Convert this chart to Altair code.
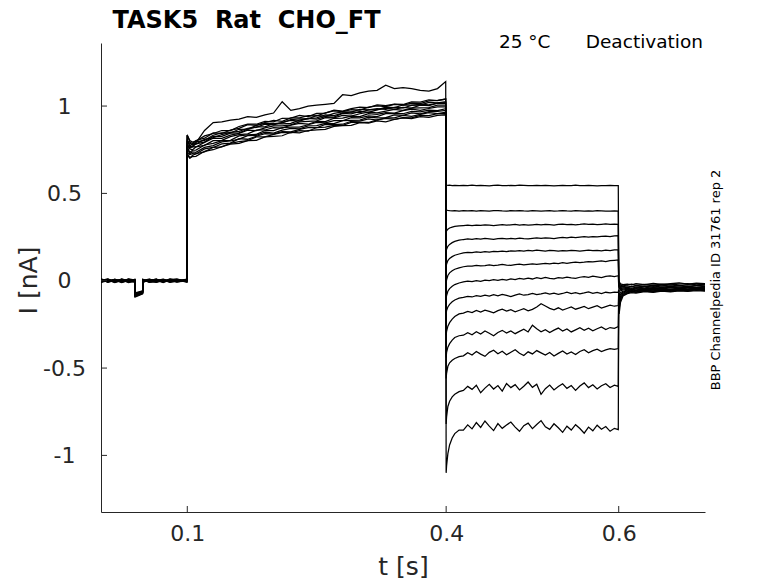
import altair as alt
import pandas as pd

SWEEP_NAMES = ["sweep %02d" % (i + 1) for i in range(13)]

# ---- time grids of the four protocol segments (s) ----
PRE_T = [0.0, 0.008, 0.016, 0.024, 0.032, 0.0392, 0.0395, 0.044, 0.0482, 0.0485,
         0.056, 0.064, 0.072, 0.08, 0.088, 0.0995]
ACT_T = [0.1, 0.1003, 0.103, 0.106, 0.11, 0.12, 0.13, 0.14, 0.15, 0.16, 0.17, 0.18,
         0.19, 0.20, 0.21, 0.22, 0.23, 0.24, 0.25, 0.26, 0.27, 0.28, 0.29, 0.30, 0.31,
         0.32, 0.33, 0.34, 0.35, 0.36, 0.37, 0.38, 0.39, 0.3995]
DEA_T = [0.4, 0.4005, 0.402, 0.404, 0.407, 0.41, 0.415,
         0.42, 0.425, 0.43, 0.435, 0.44, 0.445, 0.45, 0.455, 0.46, 0.465,
         0.47, 0.475, 0.48, 0.485, 0.49, 0.495, 0.50, 0.505, 0.51, 0.515,
         0.52, 0.525, 0.53, 0.535, 0.54, 0.545, 0.55, 0.555, 0.56, 0.565,
         0.57, 0.575, 0.58, 0.585, 0.59, 0.595, 0.5995]
POST_T = [0.6, 0.6005, 0.602, 0.605, 0.61, 0.615, 0.62, 0.63, 0.64, 0.65, 0.66,
          0.67, 0.68, 0.69, 0.7]

# ---- current (nA) per sweep, per segment ----
PRE_I = [
    [0.005, -0.004, 0.008, -0.002, 0.006, 0.0, -0.075, -0.068, -0.062, 0.004, -0.003, 0.007, -0.001, 0.005, -0.004, 0.003],
    [-0.006, 0.004, -0.003, 0.009, -0.005, 0.002, -0.082, -0.072, -0.066, -0.002, 0.006, -0.004, 0.008, -0.003, 0.005, -0.002],
    [0.002, 0.010, -0.006, 0.003, -0.008, 0.005, -0.088, -0.079, -0.071, 0.007, -0.005, 0.003, -0.007, 0.009, -0.001, 0.006],
    [-0.010, 0.001, 0.006, -0.007, 0.004, -0.006, -0.070, -0.064, -0.058, -0.006, 0.002, -0.009, 0.004, -0.005, 0.008, -0.006],
    [0.008, -0.009, 0.002, 0.006, -0.003, 0.008, -0.093, -0.084, -0.075, 0.002, 0.009, -0.002, -0.006, 0.003, -0.008, 0.004],
    [-0.003, 0.007, -0.010, 0.000, 0.009, -0.004, -0.079, -0.070, -0.064, -0.009, 0.004, 0.008, 0.001, -0.007, 0.005, -0.009],
    [0.011, -0.002, 0.004, -0.010, 0.002, 0.007, -0.085, -0.076, -0.069, 0.005, -0.008, 0.001, 0.009, -0.002, -0.005, 0.008],
    [-0.008, 0.006, -0.001, 0.005, -0.010, -0.002, -0.072, -0.066, -0.060, 0.000, 0.007, -0.006, -0.003, 0.010, 0.002, -0.004],
    [0.004, -0.007, 0.009, -0.004, 0.007, 0.003, -0.090, -0.081, -0.073, -0.004, -0.001, 0.010, -0.008, 0.001, 0.007, 0.001],
    [-0.001, 0.009, -0.008, 0.010, -0.001, -0.008, -0.077, -0.069, -0.063, 0.008, -0.009, -0.003, 0.006, -0.006, -0.002, 0.009],
    [0.007, -0.005, 0.003, -0.005, 0.010, 0.004, -0.084, -0.074, -0.067, -0.007, 0.003, 0.006, -0.010, 0.007, 0.010, -0.007],
    [-0.005, 0.002, -0.009, 0.007, -0.006, -0.003, -0.081, -0.073, -0.066, 0.003, -0.006, -0.008, 0.005, -0.009, -0.003, 0.005],
    [0.009, -0.008, 0.005, -0.009, 0.003, 0.006, -0.087, -0.078, -0.070, -0.003, 0.008, 0.004, -0.004, 0.004, -0.007, -0.001],
]

ACT_I = [
    [0.81, 0.80, 0.77, 0.767, 0.784, 0.794, 0.827, 0.827, 0.845, 0.847, 0.867, 0.881, 0.881, 0.90, 0.898, 0.901, 0.919, 0.929, 0.925, 0.939, 0.937, 0.958, 0.955, 0.969, 0.964, 0.978, 0.988, 0.981, 0.992, 0.988, 1.005, 1.003, 1.016, 1.015],
    [0.765, 0.735, 0.723, 0.728, 0.726, 0.755, 0.763, 0.783, 0.788, 0.813, 0.81, 0.827, 0.842, 0.839, 0.854, 0.852, 0.866, 0.876, 0.876, 0.895, 0.893, 0.896, 0.913, 0.914, 0.927, 0.92, 0.933, 0.933, 0.946, 0.941, 0.952, 0.962, 0.957, 0.965],
    [0.835, 0.83, 0.794, 0.786, 0.803, 0.816, 0.846, 0.843, 0.862, 0.872, 0.893, 0.89, 0.906, 0.918, 0.912, 0.932, 0.933, 0.945, 0.944, 0.961, 0.972, 0.968, 0.98, 0.977, 0.994, 1.001, 0.997, 1.01, 1.005, 1.017, 1.014, 1.029, 1.033, 1.04],
    [0.776, 0.763, 0.734, 0.747, 0.748, 0.777, 0.786, 0.802, 0.804, 0.829, 0.835, 0.838, 0.86, 0.859, 0.876, 0.88, 0.88, 0.893, 0.907, 0.904, 0.916, 0.916, 0.934, 0.932, 0.944, 0.94, 0.957, 0.956, 0.956, 0.97, 0.967, 0.977, 0.974, 0.985],
    [0.83, 0.80, 0.786, 0.779, 0.795, 0.804, 0.833, 0.847, 0.846, 0.867, 0.868, 0.889, 0.901, 0.90, 0.904, 0.923, 0.927, 0.926, 0.946, 0.941, 0.958, 0.967, 0.965, 0.981, 0.978, 0.979, 0.994, 0.991, 1.006, 1.006, 1.005, 1.021, 1.018, 1.025],
    [0.735, 0.717, 0.701, 0.711, 0.712, 0.741, 0.75, 0.768, 0.782, 0.786, 0.802, 0.804, 0.824, 0.827, 0.83, 0.85, 0.847, 0.86, 0.863, 0.867, 0.884, 0.888, 0.889, 0.905, 0.902, 0.915, 0.909, 0.923, 0.932, 0.928, 0.939, 0.935, 0.947, 0.95],
    [0.80, 0.78, 0.76, 0.77, 0.79, 0.86, 0.905, 0.91, 0.92, 0.925, 0.94, 0.935, 0.95, 0.96, 1.025, 0.975, 0.985, 1.0, 1.005, 1.01, 1.015, 1.065, 1.06, 1.075, 1.085, 1.09, 1.12, 1.10, 1.105, 1.10, 1.09, 1.085, 1.10, 1.14],
    [0.79, 0.766, 0.755, 0.749, 0.766, 0.775, 0.802, 0.804, 0.825, 0.836, 0.841, 0.862, 0.863, 0.876, 0.874, 0.891, 0.901, 0.896, 0.912, 0.911, 0.93, 0.931, 0.942, 0.939, 0.956, 0.952, 0.962, 0.959, 0.974, 0.982, 0.976, 0.986, 0.995, 0.995],
    [0.765, 0.754, 0.728, 0.738, 0.735, 0.763, 0.774, 0.795, 0.80, 0.811, 0.831, 0.832, 0.85, 0.845, 0.862, 0.872, 0.87, 0.887, 0.888, 0.901, 0.899, 0.917, 0.918, 0.92, 0.936, 0.933, 0.934, 0.949, 0.947, 0.961, 0.955, 0.968, 0.97, 0.975],
    [0.835, 0.83, 0.802, 0.794, 0.799, 0.829, 0.843, 0.86, 0.859, 0.883, 0.896, 0.896, 0.912, 0.91, 0.93, 0.931, 0.947, 0.94, 0.958, 0.96, 0.976, 0.971, 0.985, 0.994, 0.991, 1.007, 1.002, 1.011, 1.009, 1.024, 1.023, 1.036, 1.031, 1.04],
    [0.803, 0.774, 0.761, 0.767, 0.766, 0.792, 0.816, 0.815, 0.833, 0.843, 0.862, 0.859, 0.875, 0.887, 0.887, 0.892, 0.909, 0.912, 0.915, 0.934, 0.932, 0.946, 0.942, 0.956, 0.965, 0.961, 0.971, 0.981, 0.975, 0.988, 0.99, 0.991, 1.005, 1.005],
    [0.747, 0.726, 0.704, 0.717, 0.727, 0.738, 0.764, 0.766, 0.787, 0.797, 0.802, 0.823, 0.824, 0.838, 0.849, 0.846, 0.859, 0.856, 0.877, 0.879, 0.89, 0.889, 0.906, 0.906, 0.906, 0.921, 0.929, 0.924, 0.934, 0.932, 0.947, 0.945, 0.956, 0.957],
    [0.835, 0.80, 0.771, 0.783, 0.782, 0.809, 0.819, 0.837, 0.85, 0.855, 0.873, 0.878, 0.896, 0.893, 0.906, 0.918, 0.914, 0.929, 0.932, 0.949, 0.945, 0.959, 0.967, 0.963, 0.978, 0.985, 0.981, 0.992, 0.989, 1.004, 1.011, 1.007, 1.017, 1.02],
]

DEA_I = [
    [0.55, 0.548, 0.546, 0.547, 0.545, 0.546, 0.544,
     0.546, 0.545, 0.547, 0.544, 0.546, 0.545, 0.543, 0.546, 0.547, 0.545,
     0.544, 0.546, 0.545, 0.547, 0.546, 0.544, 0.545, 0.546, 0.544, 0.546,
     0.545, 0.543, 0.545, 0.546, 0.544, 0.545, 0.547, 0.545, 0.544, 0.546,
     0.545, 0.543, 0.545, 0.544, 0.546, 0.545, 0.544],
    [0.41, 0.405, 0.402, 0.401, 0.400, 0.401, 0.399,
     0.401, 0.400, 0.402, 0.399, 0.401, 0.400, 0.398, 0.401, 0.402, 0.400,
     0.399, 0.401, 0.400, 0.402, 0.400, 0.399, 0.401, 0.400, 0.398, 0.400,
     0.401, 0.399, 0.400, 0.402, 0.400, 0.399, 0.401, 0.400, 0.398, 0.400,
     0.399, 0.401, 0.400, 0.398, 0.399, 0.400, 0.399],
    [0.28, 0.285, 0.295, 0.302, 0.307, 0.311, 0.314,
     0.316, 0.318, 0.315, 0.319, 0.317, 0.320, 0.318, 0.316, 0.319, 0.321,
     0.318, 0.320, 0.322, 0.319, 0.321, 0.318, 0.320, 0.322, 0.320, 0.323,
     0.321, 0.319, 0.322, 0.324, 0.321, 0.323, 0.320, 0.322, 0.325, 0.322,
     0.324, 0.321, 0.323, 0.325, 0.322, 0.324, 0.323],
    [0.17, 0.18, 0.197, 0.208, 0.218, 0.225, 0.232,
     0.236, 0.239, 0.237, 0.241, 0.238, 0.242, 0.240, 0.237, 0.241, 0.243,
     0.239, 0.242, 0.240, 0.244, 0.241, 0.239, 0.243, 0.245, 0.242, 0.246,
     0.244, 0.241, 0.245, 0.248, 0.245, 0.249, 0.247, 0.250, 0.252, 0.249,
     0.253, 0.251, 0.254, 0.256, 0.253, 0.257, 0.258],
    [0.08, 0.095, 0.115, 0.128, 0.138, 0.146, 0.153,
     0.160, 0.163, 0.161, 0.165, 0.163, 0.167, 0.164, 0.168, 0.166, 0.170,
     0.167, 0.171, 0.169, 0.172, 0.170, 0.174, 0.171, 0.175, 0.173, 0.170,
     0.174, 0.172, 0.169, 0.173, 0.171, 0.174, 0.172, 0.170, 0.173, 0.175,
     0.172, 0.174, 0.171, 0.175, 0.173, 0.176, 0.177],
    [-0.01, 0.005, 0.03, 0.045, 0.057, 0.066, 0.074,
     0.080, 0.084, 0.083, 0.088, 0.085, 0.087, 0.091, 0.086, 0.089, 0.093,
     0.090, 0.088, 0.092, 0.095, 0.091, 0.094, 0.097, 0.093, 0.096, 0.099,
     0.097, 0.101, 0.098, 0.103, 0.100, 0.104, 0.107, 0.103, 0.106, 0.110,
     0.108, 0.111, 0.114, 0.110, 0.115, 0.117, 0.119],
    [-0.10, -0.085, -0.06, -0.045, -0.032, -0.022, -0.013,
     -0.007, -0.002, -0.005, 0.001, -0.003, 0.004, 0.000, 0.006, 0.002, 0.008,
     0.004, 0.011, 0.006, 0.013, 0.009, 0.015, 0.010, 0.017, 0.012, 0.019,
     0.014, 0.011, 0.018, 0.015, 0.021, 0.016, 0.013, 0.020, 0.024, 0.019,
     0.026, 0.022, 0.018, 0.025, 0.028, 0.024, 0.029],
    [-0.19, -0.17, -0.15, -0.135, -0.12, -0.11, -0.10,
     -0.095, -0.089, -0.093, -0.085, -0.090, -0.083, -0.088, -0.080, -0.086, -0.078,
     -0.084, -0.091, -0.082, -0.076, -0.083, -0.079, -0.072, -0.080, -0.075, -0.069,
     -0.077, -0.071, -0.078, -0.073, -0.066, -0.074, -0.068, -0.075, -0.070, -0.064,
     -0.072, -0.067, -0.073, -0.066, -0.070, -0.065, -0.067],
    [-0.31, -0.29, -0.26, -0.24, -0.22, -0.205, -0.19,
     -0.185, -0.176, -0.182, -0.170, -0.179, -0.168, -0.175, -0.184, -0.171, -0.163,
     -0.174, -0.166, -0.178, -0.169, -0.160, -0.172, -0.164, -0.150, -0.132, -0.145,
     -0.158, -0.166, -0.155, -0.168, -0.159, -0.150, -0.163, -0.155, -0.147, -0.160,
     -0.151, -0.143, -0.156, -0.148, -0.140, -0.146, -0.142],
    [-0.44, -0.41, -0.38, -0.36, -0.34, -0.325, -0.315,
     -0.312, -0.298, -0.309, -0.292, -0.305, -0.288, -0.301, -0.315, -0.296, -0.284,
     -0.299, -0.287, -0.303, -0.290, -0.278, -0.293, -0.255, -0.275, -0.292, -0.280,
     -0.296, -0.283, -0.271, -0.288, -0.276, -0.293, -0.281, -0.269, -0.284, -0.272,
     -0.287, -0.275, -0.264, -0.279, -0.268, -0.272, -0.263],
    [-0.56, -0.53, -0.49, -0.47, -0.455, -0.445, -0.435,
     -0.430, -0.412, -0.425, -0.405, -0.420, -0.433, -0.410, -0.398, -0.418, -0.404,
     -0.424, -0.409, -0.395, -0.415, -0.428, -0.407, -0.419, -0.400, -0.413, -0.426,
     -0.411, -0.431, -0.416, -0.402, -0.420, -0.408, -0.423, -0.405, -0.395, -0.412,
     -0.400, -0.392, -0.405, -0.396, -0.389, -0.393, -0.388],
    [-0.82, -0.78, -0.72, -0.69, -0.665, -0.65, -0.635,
     -0.628, -0.605, -0.622, -0.598, -0.641, -0.615, -0.593, -0.620, -0.600, -0.632,
     -0.588, -0.612, -0.595, -0.625, -0.604, -0.580, -0.610, -0.592, -0.650, -0.618,
     -0.597, -0.625, -0.606, -0.590, -0.616, -0.600, -0.628, -0.603, -0.585, -0.612,
     -0.596, -0.620, -0.601, -0.590, -0.611, -0.598, -0.605],
    [-1.10, -1.06, -0.99, -0.94, -0.90, -0.875, -0.855,
     -0.855, -0.825, -0.848, -0.812, -0.840, -0.803, -0.832, -0.858, -0.818, -0.845,
     -0.826, -0.809, -0.838, -0.862, -0.830, -0.815, -0.847, -0.823, -0.801, -0.836,
     -0.851, -0.819, -0.842, -0.868, -0.833, -0.855, -0.824, -0.846, -0.873, -0.838,
     -0.859, -0.827, -0.850, -0.835, -0.862, -0.845, -0.852],
]

POST_I = [
    [0.01, -0.005, -0.018, -0.022, -0.019, -0.024, -0.017, -0.022, -0.015, -0.021, -0.016, -0.013, -0.019, -0.014, -0.016],
    [0.0, -0.01, -0.025, -0.029, -0.024, -0.020, -0.027, -0.021, -0.025, -0.019, -0.024, -0.020, -0.017, -0.023, -0.019],
    [-0.005, -0.02, -0.032, -0.034, -0.029, -0.035, -0.027, -0.032, -0.025, -0.030, -0.024, -0.029, -0.023, -0.027, -0.022],
    [-0.01, -0.025, -0.039, -0.035, -0.040, -0.033, -0.037, -0.031, -0.036, -0.029, -0.034, -0.028, -0.033, -0.027, -0.030],
    [-0.015, -0.03, -0.045, -0.042, -0.038, -0.044, -0.036, -0.041, -0.034, -0.039, -0.033, -0.037, -0.031, -0.036, -0.033],
    [-0.02, -0.04, -0.052, -0.048, -0.043, -0.048, -0.041, -0.046, -0.039, -0.043, -0.037, -0.041, -0.036, -0.039, -0.036],
    [-0.03, -0.06, -0.058, -0.053, -0.048, -0.052, -0.045, -0.049, -0.043, -0.047, -0.041, -0.045, -0.039, -0.043, -0.039],
    [-0.05, -0.08, -0.069, -0.060, -0.054, -0.049, -0.053, -0.047, -0.051, -0.045, -0.049, -0.043, -0.047, -0.042, -0.045],
    [-0.06, -0.10, -0.079, -0.065, -0.058, -0.053, -0.057, -0.050, -0.054, -0.048, -0.052, -0.046, -0.050, -0.045, -0.048],
    [-0.07, -0.12, -0.089, -0.070, -0.062, -0.057, -0.060, -0.054, -0.058, -0.051, -0.055, -0.049, -0.053, -0.048, -0.051],
    [-0.08, -0.14, -0.099, -0.076, -0.066, -0.060, -0.064, -0.057, -0.061, -0.054, -0.058, -0.052, -0.056, -0.050, -0.054],
    [-0.09, -0.16, -0.110, -0.081, -0.070, -0.064, -0.067, -0.060, -0.064, -0.057, -0.061, -0.055, -0.058, -0.053, -0.057],
    [-0.10, -0.19, -0.125, -0.087, -0.074, -0.068, -0.071, -0.063, -0.067, -0.060, -0.064, -0.058, -0.061, -0.056, -0.060],
]

X_TICKS = [0.1, 0.4, 0.6]
Y_TICKS = [-1, -0.5, 0, 0.5, 1]

NB = "\u00a0"
TITLE = "TASK5" + NB * 2 + "Rat" + NB * 2 + "CHO_FT"
CONDITION = "25" + NB + "°C" + NB * 6 + "Deactivation"
SOURCE = "BBP Channelpedia ID 31761 rep 2"

# ---- assemble long table ----
rows = []
for s, name in enumerate(SWEEP_NAMES):
    for seg_t, seg_i, seg in ((PRE_T, PRE_I, "pre"), (ACT_T, ACT_I, "act"),
                              (DEA_T, DEA_I, "dea"), (POST_T, POST_I, "post")):
        assert len(seg_t) == len(seg_i[s]), (name, seg, len(seg_t), len(seg_i[s]))
    ts = PRE_T + ACT_T + DEA_T + POST_T
    vs = PRE_I[s] + ACT_I[s] + DEA_I[s] + POST_I[s]
    for k, (t, v) in enumerate(zip(ts, vs)):
        rows.append({"sweep": name, "k": k, "t": t, "I": v})
df = pd.DataFrame(rows)

W, H = 604, 469
FONT = "DejaVu Sans"
AX = "#262626"

xscale = alt.Scale(domain=[0, 0.7], nice=False, zero=False)
yscale = alt.Scale(domain=[-1.324, 1.361], nice=False, zero=False)

x_axis = alt.Axis(
    values=X_TICKS, labelExpr="toString(datum.value)", title="t [s]",
    ticks=False, tickSize=0, grid=False, domainColor=AX, domainWidth=1,
    labelFont=FONT, labelFontSize=22, labelColor=AX, labelPadding=11,
    labelFlush=False, labelOverlap=False,
    titleFont=FONT, titleFontSize=25, titleFontWeight="normal", titleColor=AX,
    titleBaseline="alphabetic", titleY=62,
)
y_axis = alt.Axis(
    values=Y_TICKS, labelExpr="toString(datum.value)", title="I [nA]",
    ticks=False, tickSize=0, grid=False, domainColor=AX, domainWidth=1,
    labelFont=FONT, labelFontSize=22, labelColor=AX, labelPadding=37,
    labelAlign="center", labelBaseline="middle",
    labelFlush=False, labelOverlap=False,
    titleFont=FONT, titleFontSize=25, titleFontWeight="normal", titleColor=AX,
    titleAngle=270, titleAlign="center", titleBaseline="alphabetic",
    titleX=-65, titleY=237,
)

lines = alt.Chart(df).mark_line(color="black", strokeWidth=1.25, clip=True).encode(
    x=alt.X("t:Q", scale=xscale, axis=x_axis),
    y=alt.Y("I:Q", scale=yscale, axis=y_axis),
    detail="sweep:N",
    order=alt.Order("k:Q"),
)

xticks = alt.Chart(pd.DataFrame({"t": X_TICKS})).mark_rule(color=AX, strokeWidth=1).encode(
    x=alt.X("t:Q", scale=xscale, axis=x_axis),
    y=alt.value(H),
    y2=alt.value(H - 6),
)
yticks = alt.Chart(pd.DataFrame({"I": Y_TICKS})).mark_rule(color=AX, strokeWidth=1).encode(
    y=alt.Y("I:Q", scale=yscale, axis=y_axis),
    x=alt.value(0),
    x2=alt.value(6),
)

title_txt = alt.Chart(pd.DataFrame({"txt": [TITLE]})).mark_text(
    align="left", baseline="alphabetic", font=FONT, fontSize=24,
    fontWeight="bold", color="black",
).encode(text="txt:N", x=alt.value(11.5), y=alt.value(-15.5))

cond_txt = alt.Chart(pd.DataFrame({"txt": [CONDITION]})).mark_text(
    align="right", baseline="alphabetic", font=FONT, fontSize=18.5, color="black",
).encode(text="txt:N", x=alt.value(602), y=alt.value(4.5))

src_txt = alt.Chart(pd.DataFrame({"txt": [SOURCE]})).mark_text(
    align="center", baseline="alphabetic", font=FONT, fontSize=13, angle=270,
    color="black",
).encode(text="txt:N", x=alt.value(619), y=alt.value(237))

chart = alt.layer(lines, xticks, yticks, title_txt, cond_txt, src_txt).properties(
    width=W, height=H,
    autosize=alt.AutoSizeParams(type="none"),
    padding={"left": 93, "top": 35, "right": 57, "bottom": 67},
).configure_view(stroke=None)

chart.save("out.html", embed_options={"renderer": "svg", "actions": False})
